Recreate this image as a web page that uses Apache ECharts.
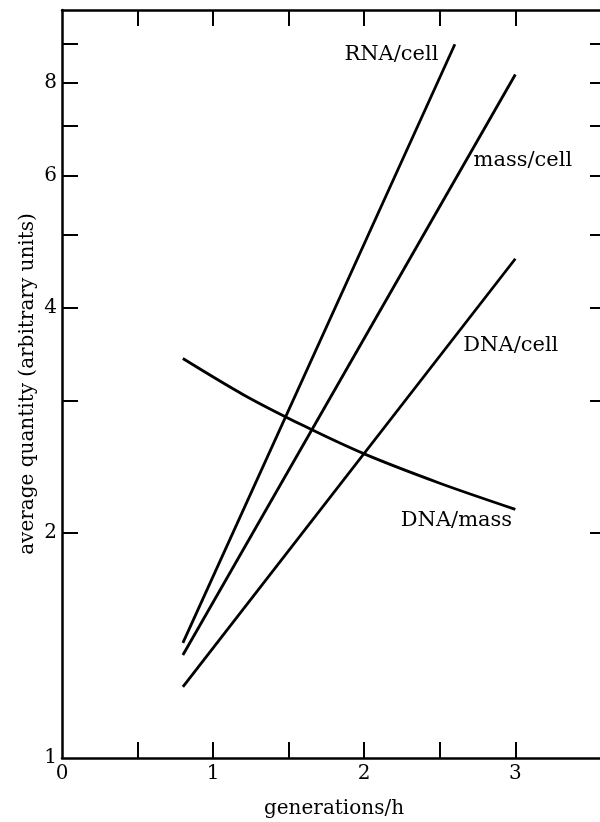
<!DOCTYPE html>
<html>
<head>
<meta charset="utf-8">
<script src="https://cdn.jsdelivr.net/npm/echarts@6/dist/echarts.min.js"></script>
<style>
html,body{margin:0;padding:0;background:#fff;}
#chart{width:600px;height:822px;}
</style>
</head>
<body>
<div id="chart"></div>
<script>
// ---- data ----
const xTickValues = [0.5, 1, 1.5, 2, 2.5, 3];
const xLabelValues = [0, 1, 2, 3];
const yTickValues = [2, 3, 4, 5, 6, 7, 8, 9];
const yLabelValues = [1, 2, 4, 6, 8];

const rnaCell = [[0.8, 1.425], [2.6, 9.0]];
const massCell = [[0.8, 1.373], [3.0, 8.2]];
const dnaCell = [[0.8, 1.245], [3.0, 4.65]];
const dnaMass = [[0.8, 3.42], [1.2, 3.06], [1.6, 2.78], [2.0, 2.55], [2.5, 2.33], [3.0, 2.15]];

const seriesNames = ['RNA/cell', 'mass/cell', 'DNA/cell', 'DNA/mass'];
const labelCoords = [[2.18, 8.72], [3.05, 6.29], [2.97, 3.56], [2.61, 2.075]];

// ---- chart ----
const FONT = 'DejaVu Serif';
const chart = echarts.init(document.getElementById('chart'), null, {renderer: 'canvas'});

const axisLine = {show: true, onZero: false, lineStyle: {color: '#000', width: 2.5}};
const tickStyle = {color: '#000', width: 2};

function lineSeries(name, data, labelCoord, smooth) {
  return {
    name: name,
    type: 'line',
    data: data,
    showSymbol: false,
    symbol: 'none',
    smooth: smooth ? 0.3 : false,
    lineStyle: {color: '#000', width: 2.8},
    xAxisIndex: 0,
    yAxisIndex: 0,
    z: 3,
    markPoint: {
      symbol: 'circle',
      symbolSize: 0,
      silent: true,
      data: [{coord: labelCoord, value: name}],
      label: {
        show: true,
        position: 'inside',
        formatter: name,
        color: '#000',
        fontFamily: FONT,
        fontSize: 21,
        align: 'center',
        verticalAlign: 'middle'
      }
    }
  };
}

const option = {
  backgroundColor: '#fff',
  animation: false,
  grid: {left: 62, top: 10, width: 544, height: 748, containLabel: false, outerBoundsMode: 'none'},
  xAxis: [
    {
      type: 'value', position: 'bottom', min: 0, max: 3.6,
      name: 'generations/h', nameLocation: 'middle', nameGap: 41, nameMoveOverlap: false,
      nameTextStyle: {color: '#000', fontFamily: FONT, fontSize: 20},
      axisLine: axisLine,
      axisTick: {show: true, inside: true, length: 16, lineStyle: tickStyle, customValues: xTickValues},
      axisLabel: {show: true, customValues: xLabelValues, color: '#000', fontFamily: FONT, fontSize: 20, margin: 6},
      splitLine: {show: false}
    },
    {
      type: 'value', position: 'top', min: 0, max: 3.6,
      axisLine: axisLine,
      axisTick: {show: true, inside: true, length: 16, lineStyle: tickStyle, customValues: xTickValues},
      axisLabel: {show: false},
      splitLine: {show: false}
    }
  ],
  yAxis: [
    {
      type: 'log', logBase: 10, position: 'left', min: 1, max: 10,
      name: 'average quantity (arbitrary units)', nameLocation: 'middle', nameGap: 24, nameMoveOverlap: false,
      nameTextStyle: {color: '#000', fontFamily: FONT, fontSize: 20},
      axisLine: axisLine,
      axisTick: {show: true, inside: true, length: 16, lineStyle: tickStyle, customValues: yTickValues},
      axisLabel: {show: true, customValues: yLabelValues, color: '#000', fontFamily: FONT, fontSize: 20, margin: 5},
      splitLine: {show: false},
      minorTick: {show: false}
    },
    {
      type: 'log', logBase: 10, position: 'right', min: 1, max: 10,
      axisLine: axisLine,
      axisTick: {show: true, inside: true, length: 16, lineStyle: tickStyle, customValues: yTickValues},
      axisLabel: {show: false},
      splitLine: {show: false}
    }
  ],
  series: [
    lineSeries(seriesNames[0], rnaCell, labelCoords[0], false),
    lineSeries(seriesNames[1], massCell, labelCoords[1], false),
    lineSeries(seriesNames[2], dnaCell, labelCoords[2], false),
    lineSeries(seriesNames[3], dnaMass, labelCoords[3], true)
  ]
};

chart.setOption(option);
</script>
</body>
</html>
